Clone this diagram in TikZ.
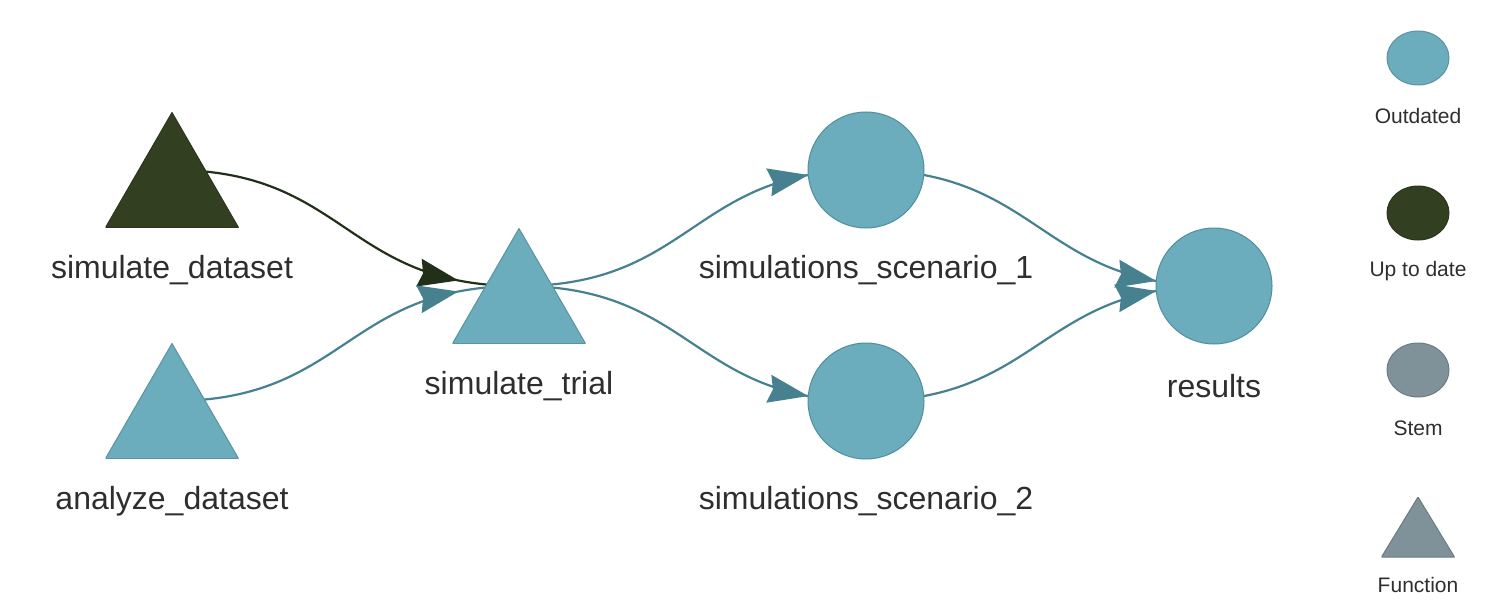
\documentclass[tikz,border=0pt]{standalone}
\usepackage{fontspec}
\setmainfont{Liberation Sans}
\usetikzlibrary{shapes.geometric, arrows.meta, decorations.markings, backgrounds}
\definecolor{outdated}{HTML}{6BADBC}
\definecolor{outdatedline}{HTML}{4F8F9D}
\definecolor{uptodate}{HTML}{323F21}
\definecolor{stem}{HTML}{7F9299}
\definecolor{edgeteal}{HTML}{47818F}
\definecolor{edgedark}{HTML}{22301A}
\definecolor{labelgray}{HTML}{2E2E2E}

\begin{document}
\begin{tikzpicture}[
    x=1pt, y=-1pt,
    target/.style={
        circle,
        draw=outdatedline,
        fill=outdated,
        line width=1pt,
        minimum size=116pt,
        inner sep=0pt
    },
    func/.style={
        rectangle,
        inner sep=0pt,
        minimum width=133pt,
        minimum height=115pt,
        path picture={\filldraw[fill=#1, draw=#1!85!black, line width=1pt]
            (path picture bounding box.south west) --
            (path picture bounding box.south east) --
            (path picture bounding box.north) -- cycle;}
    },
    key/.style={
        ellipse,
        draw=#1!85!black,
        fill=#1,
        line width=1pt,
        minimum width=62pt,
        minimum height=54pt,
        inner sep=0pt
    },
    lbl/.style={
        font=\fontsize{32}{38}\selectfont,
        text=labelgray,
        yshift=-100pt
    },
    keylbl/.style={
        font=\fontsize{21}{25}\selectfont,
        text=labelgray,
        yshift=-58pt
    },
    edge/.style={
        line width=2.2pt,
        color=edgeteal,
        postaction={decorate},
        decoration={markings,
            mark=at position -#1 with {\arrow{Stealth[length=40pt, width=28pt, inset=4pt]}}}
    },
    edge/.default=58pt
]

\useasboundingbox (0,0) rectangle (1494,607);

\node[func=uptodate, label={[lbl]center:simulate\_dataset}] (dset) at (172,170) {};
\node[func=outdated, label={[lbl]center:analyze\_dataset}] (adset) at (172,401) {};
\node[func=outdated, label={[lbl]center:simulate\_trial}] (trial) at (519,286) {};
\node[target, label={[lbl]center:simulations\_scenario\_1}] (scen1) at (866,170) {};
\node[target, label={[lbl]center:simulations\_scenario\_2}] (scen2) at (866,401) {};
\node[target, label={[lbl]center:results}] (results) at (1214,286) {};

\node[key=outdated, label={[keylbl]center:Outdated}] (keyoutdated) at (1418,58) {};
\node[key=uptodate, label={[keylbl]center:Up to date}] (keyuptodate) at (1418,213) {};
\node[key=stem, label={[keylbl]center:Stem}] (keystem) at (1418,370) {};
\node[func=stem, minimum width=73pt, minimum height=60pt, label={[keylbl]center:Function}] (keyfunc) at (1418,527) {};

\begin{scope}[on background layer]
\draw[edge=61pt, color=edgedark] (dset.center) .. controls +(174,0) and +(-174,0) .. (trial.center);
\draw[edge=61pt] (adset.center) .. controls +(174,0) and +(-174,0) .. (trial.center);
\draw[edge] (trial.center) .. controls +(174,0) and +(-174,0) .. (scen1.center);
\draw[edge] (trial.center) .. controls +(174,0) and +(-174,0) .. (scen2.center);
\draw[edge] (scen1.center) .. controls +(174,0) and +(-174,0) .. (results.center);
\draw[edge] (scen2.center) .. controls +(174,0) and +(-174,0) .. (results.center);
\end{scope}

\end{tikzpicture}
\end{document}
